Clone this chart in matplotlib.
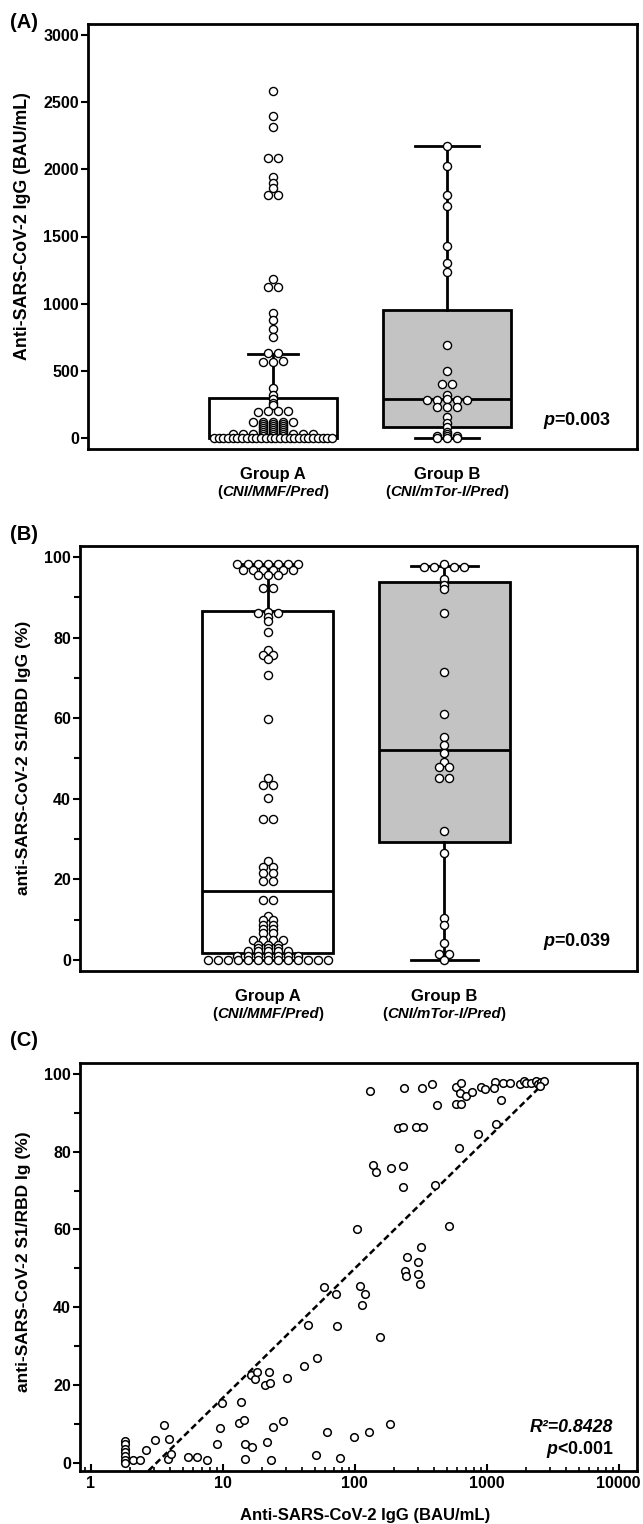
import numpy as np
import matplotlib
matplotlib.use("Agg")
import matplotlib.pyplot as plt
from matplotlib.ticker import MultipleLocator, LogLocator, FuncFormatter, NullFormatter

plt.rcParams['font.family'] = ['Liberation Sans', 'DejaVu Sans']
plt.rcParams['font.weight'] = 'bold'
plt.rcParams['mathtext.fontset'] = 'custom'
plt.rcParams['mathtext.rm'] = 'Liberation Sans:bold'
plt.rcParams['mathtext.it'] = 'Liberation Sans:italic:bold'
plt.rcParams['mathtext.bf'] = 'Liberation Sans:bold'

# ---- data -------------------------------------------------------------
groups = ["Group A", "Group B"]
regimens = ["CNI/MMF/Pred", "CNI/mTor-I/Pred"]

# (A) anti-SARS-CoV-2 IgG, BAU/mL
igg_a = [2586, 2400, 2313, 2083, 2083, 1946, 1901, 1859, 1809, 1809,
         1184, 1122, 1122, 928, 878, 809, 754, 632, 636, 565, 568, 570,
         370, 320, 290, 260, 245, 195, 198, 200, 202,
         117, 118, 120, 121, 122,
         104, 105, 106, 88, 90, 92, 73, 75, 77, 58, 60, 62, 43, 45, 47,
         26, 27, 28, 29, 30, 28, 27, 26, 29,
         14, 14, 14] + [0] * 26
igg_b = [2176, 2025, 1809, 1727, 1432, 1305, 1233, 692, 499, 402, 402,
         320, 283, 283, 288, 283, 283, 228, 228, 228, 153, 114, 84, 47, 30,
         15, 15, 15, 0, 0, 0]
igg_q1 = [0, 82]
igg_med = [15, 290]
igg_q3 = [298, 953]
igg_lo = [0, 0]
igg_hi = [625, 2176]

# (B) anti-SARS-CoV-2 S1/RBD IgG, %
rbd_a = [98.2] * 7 + [96.8] * 6 + [95.5] * 3 + [
    92.2, 92.2, 86.0, 86.3, 86.0, 85.2, 84.2, 81.3, 76.8, 75.7, 75.7, 74.7,
    70.7, 59.8, 45.1, 43.4, 43.4, 40.1, 34.9, 34.9, 24.6, 23.0, 23.0, 21.5,
    21.5, 19.7, 19.7, 14.9, 14.9, 11.0, 9.9, 9.9, 8.8, 8.8, 7.8, 7.8, 6.6,
    6.6, 5.0, 5.0, 5.0, 5.0, 3.8, 3.8, 3.8, 3.0, 3.0, 3.0,
    2.3, 2.3, 2.3, 2.3, 2.3] + [1.0] * 7 + [0.0] * 13
rbd_b = [97.6, 97.6, 98.2, 97.6, 97.6, 94.5, 93.0, 92.0, 86.2, 71.4, 61.0,
         55.4, 53.3, 51.4, 49.2, 47.8, 47.8, 45.2, 45.2, 32.1, 26.6, 10.5,
         8.8, 4.1, 1.4, 1.4, 0.0]
rbd_q1 = [1.8, 29.2]
rbd_med = [17.0, 52.0]
rbd_q3 = [86.5, 93.7]
rbd_lo = [0, 0]
rbd_hi = [98.2, 97.8]

# (C) IgG (BAU/mL) vs S1/RBD Ig (%)
sc_igg = [1.83, 1.83, 1.83, 1.83, 1.83, 1.83, 1.83, 2.09, 2.35, 2.63, 3.09,
          3.57, 3.84, 3.95, 4.07, 5.47, 6.41, 7.63, 8.99, 9.52, 9.93,
          13.3, 14.5, 13.7, 14.7, 14.9, 16.6, 16.3, 17.6, 18.3, 21.0, 22.9,
          22.5, 21.8, 23.3, 24.1, 28.9, 31.0, 41.7, 44.2, 50.6, 51.7, 58.4,
          61.9, 72.6, 74.1, 76.9, 98.2, 104, 110, 113, 120, 129, 157, 185,
          131, 139, 146, 189, 233, 233, 215, 234, 292, 328,
          242, 247, 250, 300, 318, 300, 313,
          408, 518, 616, 857, 1180,
          238, 323, 385, 422, 589, 643, 624, 701, 775, 589, 643, 912, 978,
          1165, 1138, 1279, 1331, 1496, 1783, 1923, 2004, 2187, 2387, 2459,
          2605, 2729, 2530]
sc_rbd = [5.6, 4.7, 3.6, 2.8, 1.6, 0.6, 0.0, 0.6, 0.6, 3.2, 5.8,
          9.6, 0.8, 6.0, 2.1, 1.5, 1.5, 0.6, 4.7, 9.0, 15.2,
          10.3, 10.9, 15.6, 0.8, 4.7, 4.0, 22.5, 21.6, 23.4, 19.9, 20.5,
          23.4, 5.2, 0.6, 9.2, 10.7, 21.8, 24.8, 35.4, 1.9, 27.0, 45.2,
          7.9, 43.5, 35.1, 1.2, 6.6, 60.1, 45.5, 40.5, 43.5, 7.9, 32.4, 10.0,
          95.7, 76.7, 74.8, 75.9, 76.4, 71.0, 86.0, 86.3, 86.3, 86.3,
          49.3, 48.0, 52.9, 51.5, 55.4, 48.5, 45.9,
          71.4, 60.9, 81.0, 84.5, 87.0,
          96.3, 96.3, 97.4, 92.0, 96.7, 97.8, 95.0, 94.3, 95.4, 92.2, 92.2,
          96.7, 96.1, 98.0, 96.3, 93.3, 97.6, 97.8, 97.4, 98.3, 97.6, 97.6,
          98.2, 97.3, 97.9, 98.3, 97.0]
fit_intercept = -16.7
fit_slope = 33.3
fit_range = [2.74, 2850]

# ---- layout / style ---------------------------------------------------
W, H = 643, 1524
POS = [1, 2]
BOX_FACES = ['white', '#c3c3c3']
STEP = 0.057   # dot spacing in swarm rows (x units)
HALF = 0.34    # max half width of a swarm row


def swarm_x(values, center, binw):
    values = np.asarray(values, float)
    keys = np.floor(values / binw + 0.5).astype(int)
    xs = np.empty(len(values))
    for k in np.unique(keys):
        idx = np.where(keys == k)[0]
        n = len(idx)
        sp = STEP if n <= 1 else min(STEP, 2 * HALF / (n - 1))
        xs[idx] = center + (np.arange(n) - (n - 1) / 2) * sp
    return xs


def box_panel(ax, data, q1, med, q3, lo, hi, capw, binw, ylim):
    stats = [dict(q1=q1[i], med=med[i], q3=q3[i], whislo=lo[i], whishi=hi[i])
             for i in range(2)]
    lw = 2.0
    bp = ax.bxp(stats, positions=POS, widths=0.74, capwidths=capw,
                patch_artist=True, showfliers=False, manage_ticks=False,
                boxprops=dict(linewidth=lw, edgecolor='black'),
                medianprops=dict(color='black', linewidth=lw),
                whiskerprops=dict(color='black', linewidth=lw),
                capprops=dict(color='black', linewidth=lw))
    for patch, fc in zip(bp['boxes'], BOX_FACES):
        patch.set_facecolor(fc)
    for i, vals in enumerate(data):
        ax.scatter(swarm_x(vals, POS[i], binw), vals, s=34, facecolor='white',
                   edgecolor='black', linewidth=1.0, zorder=4)
    ax.set_xlim(-0.063, 3.092)
    ax.set_ylim(*ylim)
    ax.set_xticks([])
    for i in range(2):
        ax.annotate(groups[i], xy=(POS[i], 0), xycoords=('data', 'axes fraction'),
                    xytext=(0, -26 * 0.72), textcoords='offset points',
                    ha='center', va='center', fontsize=12, fontweight='bold')
        t = ax.annotate(regimens[i], xy=(POS[i], 0), xycoords=('data', 'axes fraction'),
                        xytext=(0, -43 * 0.72), textcoords='offset points',
                        ha='center', va='center', fontsize=10.8,
                        fontweight='bold', fontstyle='italic')
        ax.annotate('(', xy=(0, 0), xycoords=t, ha='right', va='bottom',
                    fontsize=10.8, fontweight='bold')
        ax.annotate(')', xy=(1, 0), xycoords=t, ha='left', va='bottom',
                    fontsize=10.8, fontweight='bold')


def frame(ax):
    for sp in ax.spines.values():
        sp.set_linewidth(2.0)
    ax.tick_params(axis='y', which='major', direction='out', length=5,
                   width=1.5, labelsize=11.5, pad=1.5)
    ax.tick_params(axis='y', which='minor', direction='out', length=4, width=1.5)


fig = plt.figure(figsize=(W / 100, H / 100), dpi=100)
axA = fig.add_axes([88 / W, 1 - 449 / H, 549 / W, 425 / H])
axB = fig.add_axes([80 / W, 1 - 970.7 / H, 557 / W, 424.7 / H])
axC = fig.add_axes([80 / W, 1 - 1470.7 / H, 557 / W, 408 / H])

# (A)
box_panel(axA, [igg_a, igg_b], igg_q1, igg_med, igg_q3, igg_lo, igg_hi,
          [0.29, 0.37], 15, (-82, 3082))
axA.yaxis.set_major_locator(MultipleLocator(500))
frame(axA)
axA.set_ylabel('Anti-SARS-CoV-2 IgG (BAU/mL)', fontsize=12.8, fontweight='bold')
axA.yaxis.set_label_coords(-0.104, 0.525)
axA.text(0.953, 0.068, r'$\mathit{p}$=0.003', transform=axA.transAxes,
         ha='right', va='center', fontsize=13, fontweight='bold')

# (B)
box_panel(axB, [rbd_a, rbd_b], rbd_q1, rbd_med, rbd_q3, rbd_lo, rbd_hi,
          [0.30, 0.38], 1, (-2.65, 102.7))
axB.yaxis.set_major_locator(MultipleLocator(20))
axB.yaxis.set_minor_locator(MultipleLocator(10))
frame(axB)
axB.set_ylabel('anti-SARS-CoV-2 S1/RBD IgG (%)', fontsize=12.5, fontweight='bold')
axB.yaxis.set_label_coords(-0.088, 0.5)
axB.text(0.953, 0.069, r'$\mathit{p}$=0.039', transform=axB.transAxes,
         ha='right', va='center', fontsize=13, fontweight='bold')

# (C)
fx = np.logspace(np.log10(fit_range[0]), np.log10(fit_range[1]), 60)
axC.plot(fx, fit_intercept + fit_slope * np.log10(fx), color='black',
         linewidth=1.8, linestyle=(0, (2.6, 1.4)), zorder=2)
axC.scatter(sc_igg, sc_rbd, s=30, facecolor='white', edgecolor='black',
            linewidth=1.1, zorder=3)
axC.set_xscale('log')
axC.set_xlim(0.83, 13800)
axC.set_ylim(-2.1, 102.9)
axC.xaxis.set_major_locator(LogLocator(base=10))
axC.xaxis.set_minor_locator(LogLocator(base=10, subs=np.arange(2, 10)))
axC.xaxis.set_major_formatter(FuncFormatter(lambda v, p: f'{v:g}'))
axC.xaxis.set_minor_formatter(NullFormatter())
axC.yaxis.set_major_locator(MultipleLocator(20))
axC.yaxis.set_minor_locator(MultipleLocator(10))
frame(axC)
axC.tick_params(axis='x', which='major', direction='in', length=5, width=1.5,
                labelsize=11.5, pad=4)
axC.tick_params(axis='x', which='minor', direction='in', length=3, width=1.2)
axC.set_xlabel('Anti-SARS-CoV-2 IgG (BAU/mL)', fontsize=12, fontweight='bold')
axC.xaxis.set_label_coords(0.512, -0.091)
axC.set_ylabel('anti-SARS-CoV-2 S1/RBD Ig (%)', fontsize=12.5, fontweight='bold')
axC.yaxis.set_label_coords(-0.088, 0.512)
axC.text(0.957, 0.105, 'R\u00b2=0.8428', transform=axC.transAxes, ha='right',
         va='center', fontsize=12.8, fontweight='bold', fontstyle='italic')
axC.text(0.957, 0.053, r'$\mathit{p}$<0.001', transform=axC.transAxes,
         ha='right', va='center', fontsize=12.8, fontweight='bold')

# panel letters
for lab, ypx in [('(A)', 22), ('(B)', 534), ('(C)', 1041)]:
    fig.text(10 / W, 1 - ypx / H, lab, ha='left', va='center', fontsize=14.5,
             fontweight='bold')

fig.savefig('out.png', dpi=100)
